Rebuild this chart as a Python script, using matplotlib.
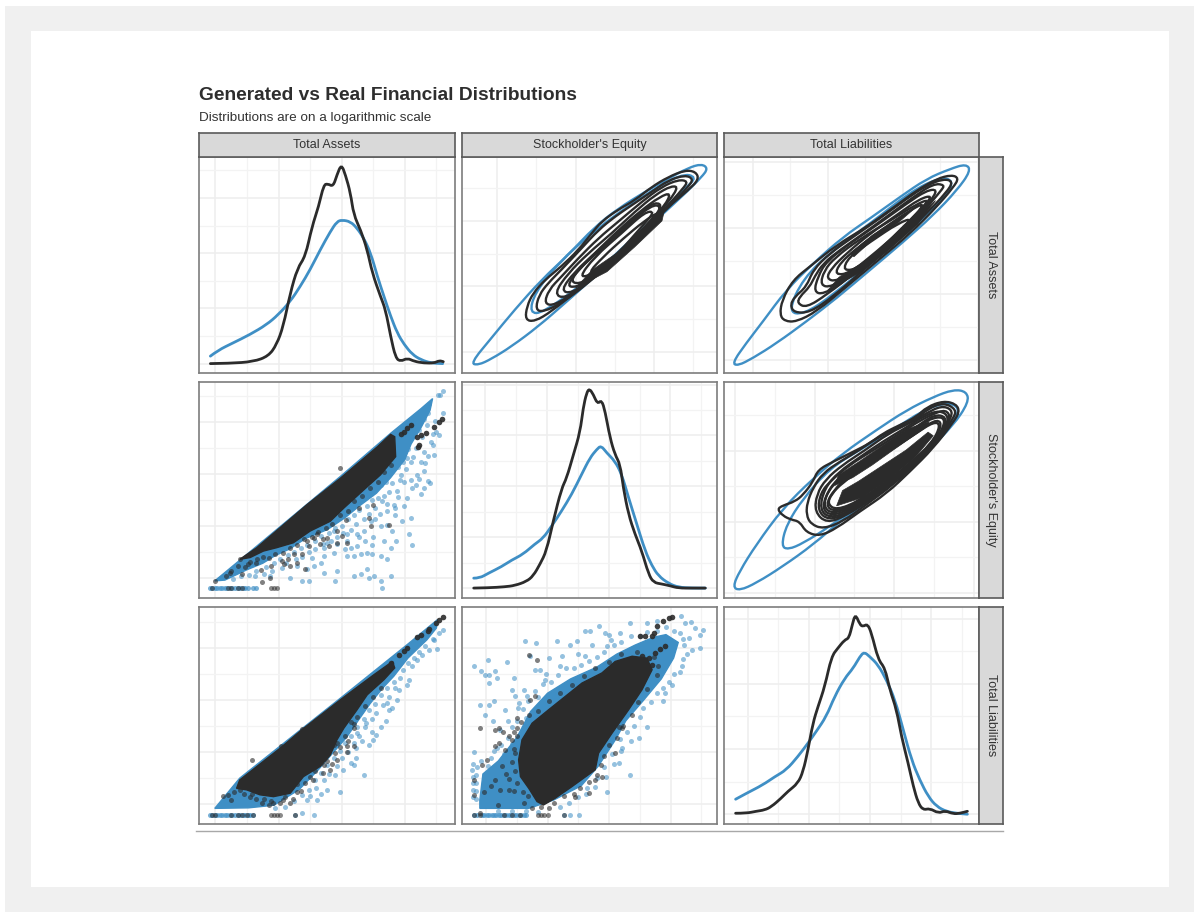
# Generated vs real financial distributions, pairs-plot layout.
# The solid middle of each scatter and the solid stacks of contour lines are drawn
# as filled outlines (too many dots and lines to read one by one).

import matplotlib.pyplot as plt
from matplotlib.patches import PathPatch, Rectangle
from matplotlib.path import Path
from matplotlib.lines import Line2D

plt.rcParams['font.family'] = ['Liberation Sans', 'DejaVu Sans']

FIG_W = 1198
FIG_H = 916
BLUE = '#3f8fc5'
DARK = '#2b2b2b'

VARIABLES = ['Total Assets', "Stockholder's Equity", 'Total Liabilities']
TITLE = 'Generated vs Real Financial Distributions'
SUBTITLE = 'Distributions are on a logarithmic scale'

# density curves
assets_real = [(-0.16, 0), (0.46, 0.01), (1.20, 0.07), (1.68, 0.27), (1.94, 0.69), (2.15, 1.35), (2.37, 2.55),
               (2.60, 3.46), (2.85, 3.88), (3.06, 4.96), (3.27, 5.69), (3.43, 6.47), (3.56, 6.51), (3.73, 6.41),
               (3.85, 6.83), (3.99, 7.22), (4.12, 6.83), (4.28, 6.17), (4.38, 5.39), (4.60, 4.84), (4.81, 4.12),
               (4.97, 3.28), (5.23, 2.43), (5.39, 1.95), (5.55, 0.99), (5.71, 0.20), (5.87, 0.08), (6.08, 0.20),
               (6.30, 0.08), (6.61, 0.02), (6.93, 0.02), (7.09, 0.11), (7.22, 0.07)]
assets_gen = [(-0.16, 0.27), (0.08, 0.48), (0.56, 0.75), (1.09, 1.05), (1.62, 1.41), (1.99, 1.77), (2.37, 2.25),
              (2.69, 2.80), (3.00, 3.40), (3.32, 4.12), (3.64, 4.78), (3.85, 5.14), (4.01, 5.20), (4.28, 5.14),
              (4.49, 4.90), (4.70, 4.54), (4.92, 4.00), (5.13, 3.16), (5.34, 2.43), (5.55, 1.72), (5.76, 1.11),
              (5.98, 0.69), (6.24, 0.33), (6.51, 0.14), (6.83, 0.02), (7.20, 0)]
equity_real = [(-0.38, 0), (0.09, 0.01), (0.63, 0.05), (0.95, 0.10), (1.33, 0.26), (1.55, 0.48), (1.77, 0.94),
               (1.98, 1.46), (2.20, 2.64), (2.47, 3.92), (2.63, 4.31), (2.85, 5.23), (3.07, 6.14), (3.17, 7.08),
               (3.28, 7.67), (3.37, 7.84), (3.50, 7.61), (3.63, 7.24), (3.77, 7.39), (3.88, 6.95), (4.04, 5.91),
               (4.20, 5.25), (4.37, 4.86), (4.47, 3.95), (4.64, 2.90), (4.85, 2.12), (5.07, 1.46), (5.29, 0.55),
               (5.45, 0.22), (5.72, 0.16), (5.99, 0.09), (6.26, 0), (6.70, 0), (7.13, 0)]
equity_gen = [(-0.38, 0.39), (-0.19, 0.39), (0.09, 0.58), (0.52, 0.84), (0.85, 1.10), (1.22, 1.33), (1.60, 1.73),
              (1.87, 1.96), (2.15, 2.44), (2.47, 3.03), (2.80, 3.69), (3.12, 4.47), (3.39, 5.12), (3.61, 5.45),
              (3.75, 5.60), (3.93, 5.32), (4.20, 4.99), (4.42, 4.47), (4.64, 3.56), (4.91, 2.51), (5.18, 1.46),
              (5.40, 0.88), (5.61, 0.48), (5.94, 0.18), (6.26, 0.03), (6.70, 0), (7.13, 0)]
liab_real = [(-0.40, 0.03), (-0.05, 0.03), (0.27, 0.09), (0.55, 0.13), (0.77, 0.23), (1.09, 0.49), (1.31, 0.70),
             (1.64, 0.95), (1.81, 1.31), (1.97, 1.97), (2.13, 2.79), (2.30, 3.31), (2.52, 3.92), (2.74, 4.84),
             (2.95, 5.10), (3.17, 5.35), (3.31, 5.40), (3.42, 5.81), (3.52, 6.15), (3.67, 5.82), (3.77, 5.76),
             (3.92, 5.84), (4.05, 5.56), (4.27, 4.74), (4.49, 4.49), (4.65, 3.82), (4.87, 3.21), (5.03, 2.39),
             (5.25, 1.57), (5.42, 0.85), (5.58, 0.34), (5.74, 0.13), (5.96, 0.18), (6.24, 0.03), (6.46, 0.11),
             (6.73, 0.01), (6.95, 0.03), (7.19, 0.09)]
liab_gen = [(-0.40, 0.46), (-0.05, 0.64), (0.49, 0.90), (0.88, 1.15), (1.26, 1.36), (1.64, 1.77), (1.97, 2.18),
            (2.24, 2.54), (2.57, 3.00), (2.84, 3.61), (3.17, 4.17), (3.45, 4.48), (3.67, 4.84), (3.81, 4.98),
            (3.99, 4.84), (4.27, 4.58), (4.54, 4.12), (4.82, 3.51), (5.09, 2.59), (5.36, 1.67), (5.63, 1.05),
            (5.91, 0.54), (6.18, 0.24), (6.51, 0.08), (6.84, 0.03), (7.19, 0)]

# contours, top row middle: Stockholder's Equity (x) vs Total Assets (y)
ea_gen = [
    [(-0.67, -0.34), (-0.48, -0.40), (-0.14, -0.21), (0.37, 0.17), (1.05, 0.78), (1.73, 1.49), (2.58, 2.40),
     (3.43, 3.32), (4.19, 4.18), (4.79, 4.84), (5.21, 5.34), (5.37, 5.60), (5.21, 5.74), (4.87, 5.62), (4.36, 5.29),
     (3.77, 4.89), (3.09, 4.38), (2.49, 3.82), (1.81, 2.96), (1.13, 2.20), (0.45, 1.29), (-0.14, 0.43)],
    [(0.83, 1.19), (1.17, 1.19), (2.32, 2.20), (3.68, 3.72), (4.79, 4.99), (5.09, 5.34), (4.70, 5.45), (3.68, 4.74),
     (2.49, 3.72), (1.56, 2.71), (0.96, 1.80)],
]
ea_real = [
    [(0.72, 0.98), (0.96, 0.93), (1.39, 1.24), (2.07, 1.90), (2.92, 2.71), (3.68, 3.62), (4.36, 4.43), (4.87, 4.94),
     (5.14, 5.27), (5.06, 5.50), (4.79, 5.55), (4.36, 5.34), (3.94, 5.04), (3.51, 4.63), (3.09, 4.35), (2.66, 3.98),
     (2.41, 3.62), (2.07, 3.11), (1.64, 2.61), (1.22, 2.20), (0.92, 1.80), (0.76, 1.39)],
    [(0.98, 1.30), (1.17, 1.22), (1.64, 1.49), (2.32, 2.10), (3.09, 2.91), (3.77, 3.72), (4.45, 4.53), (4.87, 5.04),
     (5.00, 5.28), (4.79, 5.40), (4.36, 5.24), (3.94, 4.89), (3.43, 4.48), (3.00, 4.13), (2.58, 3.72), (2.15, 3.16),
     (1.64, 2.51), (1.30, 2.10), (1.07, 1.74)],
    [(1.20, 1.47), (1.47, 1.42), (2.07, 1.90), (2.83, 2.71), (3.68, 3.62), (4.28, 4.38), (4.74, 4.99), (4.86, 5.21),
     (4.62, 5.26), (4.19, 5.04), (3.68, 4.58), (3.09, 3.98), (2.58, 3.47), (2.07, 2.86), (1.64, 2.30), (1.32, 1.90)],
    [(1.45, 1.78), (1.73, 1.62), (2.32, 2.15), (3.00, 2.86), (3.68, 3.72), (4.19, 4.33), (4.63, 5.01), (4.45, 5.08),
     (4.02, 4.79), (3.51, 4.28), (2.92, 3.62), (2.32, 3.01), (1.81, 2.40)],
    [(1.62, 1.88), (1.90, 1.78), (2.49, 2.30), (3.17, 3.06), (3.77, 3.77), (4.28, 4.48), (4.43, 4.86), (4.15, 4.74),
     (3.68, 4.33), (3.09, 3.72), (2.49, 3.01), (1.98, 2.45)],
    [(1.75, 2.05), (2.00, 1.95), (2.55, 2.35), (3.20, 3.10), (3.80, 3.85), (4.22, 4.42), (4.05, 4.60), (3.55, 4.18),
     (2.95, 3.48), (2.40, 2.92)],
    [(1.85, 2.20), (2.07, 2.05), (2.58, 2.40), (3.26, 3.16), (3.85, 3.92), (4.19, 4.38), (4.02, 4.53), (3.51, 4.08),
     (2.92, 3.37), (2.32, 2.81)],
    [(2.07, 2.25), (2.49, 2.40), (3.09, 3.01), (3.68, 3.82), (4.02, 4.28), (3.77, 4.28), (3.17, 3.62), (2.49, 2.91)],
    [(2.30, 2.38), (2.70, 2.50), (3.30, 3.15), (3.90, 3.90), (4.15, 4.30), (3.75, 4.00), (3.20, 3.45), (2.70, 2.90)],
]
ea_stack = [(2.00, 1.95), (2.80, 2.45), (3.50, 3.20), (4.20, 4.00), (4.28, 4.42), (3.72, 3.78), (3.05, 3.02),
            (2.42, 2.50)]

# contours, top row right: Total Liabilities (x) vs Total Assets (y)
la_gen = [
    [(-0.55, -0.10), (-0.40, -0.18), (0, 0.05), (0.63, 0.50), (1.43, 1.16), (2.23, 1.86), (3.13, 2.72), (4.02, 3.57),
     (4.82, 4.38), (5.45, 5.13), (5.82, 5.72), (5.70, 5.93), (5.27, 5.78), (4.64, 5.48), (3.93, 4.93), (3.13, 4.28),
     (2.41, 3.72), (1.61, 2.92), (0.89, 2.11), (0.27, 1.16), (-0.18, 0.50)],
    [(0.94, 1.46), (1.34, 1.36), (2.14, 1.96), (3.30, 3.07), (4.29, 4.02), (5.18, 4.98), (5.36, 5.43), (5.00, 5.53),
     (4.20, 5.08), (3.13, 4.12), (2.14, 3.32), (1.34, 2.46)],
]
la_real = [
    [(0.72, 1.36), (0.85, 1.17), (1.16, 1.15), (1.70, 1.46), (2.50, 2.21), (3.30, 2.97), (4.20, 3.82), (4.91, 4.63),
     (5.36, 5.23), (5.50, 5.50), (5.31, 5.60), (4.91, 5.48), (4.38, 5.13), (3.84, 4.68), (3.04, 4.02), (2.23, 3.47),
     (1.52, 2.82), (1.07, 2.41), (0.78, 1.81)],
    [(1.00, 1.66), (1.10, 1.43), (1.52, 1.43), (2.14, 1.91), (2.95, 2.72), (3.84, 3.57), (4.64, 4.43), (5.18, 5.08),
     (5.35, 5.40), (5.09, 5.48), (4.64, 5.28), (4.11, 4.88), (3.39, 4.28), (2.68, 3.72), (2.05, 3.22), (1.61, 2.72),
     (1.43, 2.21), (1.12, 1.91)],
    [(1.19, 1.71), (1.43, 1.58), (1.96, 1.96), (2.77, 2.67), (3.66, 3.52), (4.46, 4.38), (5.04, 5.13), (5.12, 5.30),
     (4.82, 5.33), (4.29, 4.93), (3.57, 4.33), (2.95, 3.82), (2.32, 3.32), (1.88, 2.92), (1.65, 2.52), (1.52, 2.21),
     (1.25, 1.91)],
    [(1.63, 2.06), (1.88, 1.98), (2.50, 2.41), (3.30, 3.22), (4.11, 4.02), (4.73, 4.78), (4.94, 5.16), (4.64, 5.13),
     (4.11, 4.73), (3.30, 4.07), (2.59, 3.52), (1.96, 2.97), (1.74, 2.52)],
    [(1.80, 2.25), (2.10, 2.20), (2.75, 2.65), (3.55, 3.48), (4.30, 4.30), (4.75, 4.88), (4.35, 4.70), (3.65, 4.20),
     (2.85, 3.65), (2.20, 3.10), (1.90, 2.70)],
    [(1.96, 2.46), (2.23, 2.36), (2.95, 2.87), (3.75, 3.72), (4.46, 4.53), (4.82, 4.98), (4.46, 4.88), (3.84, 4.38),
     (3.13, 3.82), (2.50, 3.22), (2.10, 2.77)],
    [(2.19, 2.57), (2.59, 2.62), (3.30, 3.27), (4.11, 4.07), (4.64, 4.78), (4.20, 4.53), (3.48, 3.97), (2.77, 3.37),
     (2.32, 2.92)],
    [(2.40, 2.68), (2.85, 2.78), (3.60, 3.50), (4.30, 4.30), (3.90, 4.15), (3.15, 3.58), (2.55, 3.10)],
]
la_stack = [(2.00, 2.10), (2.80, 2.60), (3.60, 3.30), (4.40, 4.10), (4.88, 4.82), (4.30, 4.28), (3.50, 3.42),
            (2.85, 2.88), (2.30, 2.50)]
la_stack_top = [(2.60, 3.22), (3.20, 3.78), (3.90, 4.30), (4.42, 4.68), (3.85, 4.12), (3.15, 3.58), (2.70, 3.12)]

# contours, middle row right: Total Liabilities (x) vs Stockholder's Equity (y)
le_gen = [
    [(-0.06, 0.17), (0.11, 0.07), (0.53, 0.28), (1.20, 0.75), (1.96, 1.36), (2.63, 2.01), (3.39, 2.62), (4.14, 3.32),
     (4.82, 3.97), (5.49, 4.72), (5.87, 5.36), (5.82, 5.66), (5.49, 5.72), (4.98, 5.51), (4.31, 5.14), (3.55, 4.58),
     (2.71, 3.93), (1.96, 3.22), (1.20, 2.38), (0.53, 1.36), (0.11, 0.61)],
    [(1.16, 1.32), (1.33, 1.22), (1.71, 1.40), (2.38, 1.87), (3.30, 2.62), (4.14, 3.32), (4.98, 4.11), (5.49, 4.81),
     (5.65, 5.21), (5.32, 5.36), (4.73, 5.14), (3.97, 4.58), (3.13, 4.02), (2.38, 3.50), (1.71, 2.66), (1.29, 1.92)],
]
le_real = [
    [(1.06, 2.36), (1.20, 2.17), (1.41, 2.06), (1.62, 2.01), (1.79, 1.70), (2.13, 1.60), (2.55, 1.82), (3.13, 2.29),
     (3.81, 2.80), (4.39, 3.41), (4.98, 4.07), (5.49, 4.81), (5.64, 5.09), (5.56, 5.31), (5.24, 5.40), (4.82, 5.23),
     (4.56, 4.95), (4.14, 4.72), (3.72, 4.49), (3.39, 4.21), (2.97, 3.97), (2.46, 3.69), (2.08, 3.46), (1.96, 3.13),
     (1.71, 2.76), (1.50, 2.57), (1.20, 2.46)],
    [(1.79, 2.20), (1.90, 1.94), (2.21, 1.80), (2.71, 2.01), (3.29, 2.48), (3.97, 3.04), (4.56, 3.65), (5.07, 4.25),
     (5.49, 4.91), (5.56, 5.16), (5.24, 5.35), (4.86, 5.19), (4.52, 4.86), (4.06, 4.63), (3.55, 4.35), (3.13, 4.02),
     (2.63, 3.69), (2.21, 3.37), (1.96, 2.96), (1.81, 2.54)],
    [(2.00, 2.28), (2.30, 1.96), (2.80, 2.18), (3.40, 2.62), (4.05, 3.18), (4.65, 3.78), (5.15, 4.38), (5.43, 4.92),
     (5.45, 5.16), (5.18, 5.26), (4.80, 5.05), (4.40, 4.78), (3.85, 4.48), (3.25, 4.00), (2.70, 3.60), (2.28, 3.20),
     (2.05, 2.78)],
    [(2.07, 2.32), (2.34, 2.04), (2.85, 2.24), (3.48, 2.72), (4.10, 3.24), (4.70, 3.85), (5.18, 4.45), (5.42, 4.92),
     (5.30, 5.16), (4.95, 5.02), (4.55, 4.78), (4.05, 4.42), (3.45, 4.00), (2.85, 3.58), (2.40, 3.15), (2.15, 2.82)],
    [(2.12, 2.35), (2.38, 2.10), (2.90, 2.30), (3.55, 2.82), (4.15, 3.30), (4.75, 3.92), (5.22, 4.52), (5.39, 4.94),
     (5.15, 5.14), (4.75, 4.98), (4.30, 4.65), (3.70, 4.25), (3.15, 3.83), (2.60, 3.40), (2.25, 2.95)],
    [(2.17, 2.38), (2.42, 2.16), (2.95, 2.38), (3.60, 2.88), (4.20, 3.38), (4.80, 3.98), (5.24, 4.58), (5.32, 4.95),
     (5.00, 5.02), (4.50, 4.62), (3.90, 4.22), (3.35, 3.80), (2.78, 3.40), (2.38, 2.98)],
    [(2.22, 2.42), (2.45, 2.22), (3.00, 2.45), (3.65, 2.95), (4.25, 3.45), (4.85, 4.05), (5.25, 4.65), (5.25, 4.97),
     (4.85, 4.88), (4.35, 4.50), (3.75, 4.08), (3.15, 3.65), (2.65, 3.25), (2.32, 2.85)],
    [(2.27, 2.46), (2.50, 2.28), (3.05, 2.52), (3.70, 3.02), (4.30, 3.52), (4.90, 4.14), (5.20, 4.68), (5.10, 4.90),
     (4.65, 4.60), (4.05, 4.15), (3.40, 3.70), (2.85, 3.28), (2.48, 2.90)],
    [(2.32, 2.50), (2.55, 2.33), (3.10, 2.58), (3.75, 3.08), (4.35, 3.60), (4.95, 4.22), (5.17, 4.72), (5.00, 4.82),
     (4.50, 4.45), (3.85, 3.98), (3.20, 3.50), (2.70, 3.10), (2.42, 2.78)],
]
le_stack = [(2.55, 2.45), (3.20, 2.68), (3.90, 3.22), (4.50, 3.78), (4.98, 4.42), (4.85, 4.52), (4.30, 4.02),
            (3.70, 3.58), (3.10, 3.14), (2.70, 2.88)]
le_stack_top = [(2.50, 3.02), (2.95, 3.24), (3.45, 3.60), (3.95, 4.00), (4.40, 4.35), (4.80, 4.66), (4.88, 4.82),
                (4.35, 4.62), (3.75, 4.18), (3.10, 3.68), (2.60, 3.32)]

# scatter, middle row left: Total Assets (x) vs Stockholder's Equity (y)
ae_body_gen = [(-0.02, -0.13), (1.31, 1.21), (3.96, 3.90), (5.55, 5.56), (6.51, 6.51), (6.88, 6.90), (6.80, 6.45),
               (6.50, 5.75), (6.20, 5.15), (6.00, 4.55), (5.55, 3.85), (5.10, 3.25), (4.55, 2.75), (4.10, 2.30),
               (3.55, 1.85), (2.85, 1.50), (2.35, 1.10), (1.90, 0.85), (1.50, 0.55), (1.00, 0.30), (0.30, -0.10)]
ae_body_real = [(0.77, 0.70), (1.31, 1.15), (2.90, 2.81), (3.96, 3.83), (5.13, 5.04), (5.55, 5.52), (5.68, 5.43),
                (5.71, 4.66), (5.23, 3.96), (4.70, 3.38), (4.07, 2.68), (3.64, 2.17), (3.00, 1.79), (2.47, 1.34),
                (1.94, 1.15), (1.52, 1.02), (1.10, 0.77)]
ae_pts_gen = [(7.22, 7.18), (7.12, 7.02), (6.77, 6.70), (7.04, 7.02), (7.20, 6.36), (6.98, 5.62), (7.09, 5.49),
              (6.88, 5.11), (6.93, 4.73), (6.61, 4.09), (6.72, 3.73), (6.80, 3.64), (6.51, 3.22), (6.61, 3.45),
              (6.24, 3.45), (6.19, 3.77), (5.98, 3.70), (5.76, 3.32), (5.98, 2.75), (6.19, 2.30), (5.92, 2.17),
              (6.14, 1.66), (6.24, 1.25), (5.68, 2.43), (5.61, 1.79), (5.71, 1.40), (5.45, 2.04), (5.23, 1.98),
              (5.55, 1.15), (5.34, 1.40), (5.23, 0.83), (5.45, 0.70), (4.81, 0.96), (4.97, 0.89), (4.49, 1.21),
              (4.38, 0.83), (4.17, 0.83), (3.85, 0.26), (3.43, 0.19), (3.80, -0.15), (4.38, 0.06), (4.60, 0.13),
              (4.81, 0.32), (4.86, 0), (5.02, 0.06), (5.23, -0.13), (5.55, 0.06), (5.29, -0.41), (2.95, -0.15),
              (2.74, -0.15), (3.43, 0.83), (3.75, 0.96), (4.17, 1.40), (3.11, 0.45), (2.90, 0.32), (2.37, 0),
              (1.73, 0.06), (5.66, 2.81), (5.45, 2.55), (5.29, 2.94), (6.08, 3.07), (6.40, 3.96), (6.51, 4.47),
              (6.19, 4.47), (5.87, 3.96), (6.08, 4.60), (6.61, 4.85), (6.83, 5.24), (4.92, 2.17), (4.70, 1.79),
              (4.49, 1.66), (4.17, 1.66), (3.85, 1.28), (3.54, 1.34), (3.75, 1.79), (3.43, 1.15),
              (6.75, 6.35), (6.62, 6.10), (6.70, 5.90), (6.45, 5.70), (6.55, 5.40), (6.25, 5.45), (6.35, 5.00),
              (6.10, 4.95), (6.25, 4.65), (5.95, 4.45), (6.05, 4.20), (5.80, 4.25), (5.60, 4.10), (5.85, 3.75),
              (5.60, 3.65), (5.40, 3.70), (5.50, 3.30), (5.25, 3.55), (5.15, 3.05), (5.35, 3.15), (4.95, 3.00),
              (5.05, 2.70), (4.80, 2.75), (4.85, 2.45), (4.55, 2.60), (4.70, 2.25), (4.40, 2.40), (4.45, 2.05),
              (4.20, 2.25), (4.30, 1.85), (4.00, 2.00), (4.05, 1.70), (3.80, 1.90), (3.85, 1.55), (3.60, 1.70),
              (3.65, 1.40), (3.35, 1.60), (3.40, 1.30), (3.15, 1.40), (3.15, 1.10), (2.90, 1.25), (2.95, 1.00),
              (2.70, 1.15), (2.75, 0.80), (2.50, 1.00), (2.55, 0.70), (2.30, 0.85), (2.25, 0.55), (2.05, 0.70),
              (2.10, 0.35), (1.85, 0.55), (1.80, 0.25), (1.60, 0.40), (1.55, 0.15), (1.30, 0.25), (1.25, 0.05),
              (1.05, 0.10), (0.80, 0.05), (0.55, -0.05), (3.05, 0.75), (3.35, 0.55), (2.60, 0.45), (4.55, 1.55),
              (4.75, 1.40), (5.00, 1.55), (4.95, 1.25), (4.30, 1.15), (4.60, 0.90), (4.10, 1.10), (5.05, 2.25),
              (5.20, 2.45), (5.45, 2.85), (5.80, 3.10), (5.70, 2.70), (6.35, 3.55), (6.45, 3.80), (6.65, 4.40),
              (6.75, 4.70), (6.90, 5.55), (6.95, 6.05)]
ae_pts_real = [(3.96, 4.21), (5.50, 2.02), (4.92, 1.98), (4.17, 1.34), (3.85, 1.34), (3.22, 1.66), (2.90, 1.40),
               (2.37, 0.45), (2.16, 0.51), (1.73, 0), (1.46, -0.19), (2.85, 0.32), (2.58, 0.57), (3.54, 1.53),
               (3.32, 1.28), (3.11, 1.53), (1.04, 0.51), (1.31, 0.70), (0.77, 0.70), (0.35, 0.06), (0.46, 0.19),
               (-0.02, -0.15), (5.55, 4.35), (5.35, 4.05), (5.15, 3.70), (4.90, 3.45), (4.65, 3.15), (4.40, 2.95),
               (4.55, 2.70), (4.20, 2.55), (3.95, 2.40), (4.15, 2.20), (3.70, 2.05), (3.85, 1.80), (3.50, 1.90),
               (3.25, 1.75), (3.40, 1.50), (3.05, 1.55), (2.80, 1.50), (2.95, 1.20), (2.60, 1.25), (2.35, 1.15),
               (2.50, 0.90), (2.15, 0.95), (1.90, 0.90), (2.10, 0.65), (1.70, 0.75), (1.50, 0.80), (1.75, 0.45),
               (1.30, 0.55), (1.10, 0.60), (1.45, 0.30), (0.95, 0.40), (0.70, 0.45), (0.50, 0.25), (0.85, 0.15),
               (2.30, 0.70), (2.75, 0.90), (3.60, 1.20), (4.00, 1.60), (4.85, 2.30), (5.00, 2.80)]
ae_spur_real = [(6.19, 5.87), (6.08, 5.75), (5.98, 5.62), (5.87, 5.55), (7.17, 6.13), (7.09, 6.00), (6.93, 5.81),
                (6.67, 5.56), (6.51, 5.49), (6.40, 5.43), (6.45, 5.11), (6.42, 5.02)]
ae_floor_gen = [-0.18, -0.10, -0.02, 0.06, 0.14, 0.22, 0.30, 0.38, 0.46, 0.54, 0.62, 0.70, 0.78, 0.86, 0.94, 1.02,
                1.20, 1.28]
ae_floor_real = [-0.12, 0.40, 0.48, 0.70, 0.85, 1.77, 1.85, 1.95]

# scatter, bottom row left: Total Assets (x) vs Total Liabilities (y)
al_body_gen = [(-0.02, -0.17), (0.77, 0.99), (3.96, 4.06), (6.08, 6.12), (7.04, 7.08), (7.00, 6.75), (6.70, 6.30),
               (6.10, 5.60), (5.65, 4.90), (5.30, 4.45), (4.90, 3.85), (4.55, 3.25), (4.15, 2.55), (3.75, 2.00),
               (3.25, 1.30), (2.65, 0.55), (1.85, -0.05), (1.05, -0.15)]
al_body_real = [(0.77, 0.92), (2.05, 2.14), (2.74, 2.85), (3.96, 4.00), (5.02, 4.96), (5.61, 5.47), (5.68, 5.22),
                (5.34, 4.77), (4.81, 4.19), (4.49, 3.62), (4.07, 2.91), (3.85, 2.46), (3.64, 1.88), (3.32, 1.44),
                (2.79, 1.05), (2.37, 0.41), (1.84, 0.28), (1.41, 0.35), (0.99, 0.54), (0.67, 0.60)]
al_pts_gen = [(7.22, 6.69), (7.09, 6.56), (6.91, 6.28), (7.02, 5.95), (6.77, 5.92), (6.56, 5.73), (6.40, 5.54),
              (6.24, 5.28), (6.08, 4.58), (6.14, 4.77), (5.82, 4.38), (5.76, 4.00), (5.50, 3.62), (5.45, 3.87),
              (5.23, 2.97), (5.00, 2.46), (4.65, 2.40), (4.44, 2.14), (4.70, 1.12), (4.28, 1.56), (3.96, 0.47),
              (4.38, 1.50), (3.22, 0.15), (3.13, -0.42), (2.90, 0.15), (2.74, -0.36), (2.53, -0.42), (4.97, 2.78),
              (4.76, 3.10), (4.49, 2.72),
              (6.90, 6.35), (6.65, 6.05), (6.45, 5.85), (6.30, 5.60), (6.10, 5.40), (5.95, 5.15), (5.85, 4.85),
              (5.65, 4.70), (5.70, 4.45), (5.45, 4.45), (5.50, 4.10), (5.25, 4.20), (5.30, 3.80), (5.05, 3.85),
              (5.10, 3.50), (4.85, 3.60), (4.95, 3.25), (4.70, 3.25), (4.75, 2.95), (4.50, 2.95), (4.55, 2.60),
              (4.30, 2.60), (4.40, 2.35), (4.10, 2.35), (4.20, 2.00), (3.95, 2.05), (4.00, 1.75), (3.75, 1.75),
              (3.85, 1.45), (3.55, 1.50), (3.60, 1.15), (3.35, 1.20), (3.45, 0.90), (3.15, 0.90), (3.20, 0.60),
              (2.95, 0.55), (3.00, 0.30), (2.75, 0.35), (3.55, 0.55), (3.35, 0.40), (2.50, 0.10), (2.20, -0.10),
              (1.90, -0.15), (3.80, 1.10), (4.05, 1.30), (4.45, 1.75), (4.85, 2.25), (5.10, 2.65), (5.40, 3.20),
              (5.60, 3.70)]
al_pts_real = [(1.17, 1.67), (2.07, 2.21), (2.74, 2.87), (4.38, 2.91), (4.17, 2.21), (3.85, 2.33), (4.38, 2.21),
               (4.17, 2.01), (3.85, 1.69), (3.64, 1.31), (3.43, 1.50), (3.00, 1.05), (2.58, 0.47), (2.15, 0.15),
               (1.84, 0.03), (0.40, 0.35), (0.77, 0.54), (1.09, 0.28), (1.46, 0.03), (2.53, -0.42),
               (5.25, 4.45), (5.00, 4.10), (4.75, 3.75), (4.50, 3.35), (4.30, 3.15), (4.40, 3.05), (4.10, 2.60),
               (4.20, 2.40), (3.95, 2.20), (3.75, 2.25), (3.80, 1.95), (3.55, 1.65), (3.70, 1.55), (3.40, 1.20),
               (3.15, 1.25), (3.10, 0.90), (2.85, 0.80), (2.60, 0.75), (2.70, 0.50), (2.45, 0.20), (2.20, 0.25),
               (2.05, 0.05), (1.75, 0.10), (1.55, 0.20), (1.30, 0.20), (1.15, 0.40), (0.90, 0.40), (0.60, 0.45),
               (0.50, 0.15), (0.25, 0.30), (1.70, -0.05), (2.35, 0.05)]
al_spur_real = [(7.20, 7.18), (7.09, 7.05), (6.99, 6.95), (6.77, 6.72), (6.51, 6.50), (6.40, 6.41), (6.72, 6.62),
                (6.08, 5.99), (5.98, 5.86), (5.82, 5.73), (5.55, 5.41)]
al_floor_gen = [-0.18, -0.10, -0.02, 0.06, 0.14, 0.22, 0.30, 0.38, 0.46, 0.54, 0.62, 0.70, 0.78, 0.86, 0.94, 1.02,
                1.10, 1.20]
al_floor_real = [-0.10, 0, 0.50, 0.70, 0.85, 1.00, 1.20, 1.75, 1.85, 1.95, 2.05]

# scatter, bottom row middle: Stockholder's Equity (x) vs Total Liabilities (y)
el_body_gen = [(-0.20, -0.17), (1.39, -0.17), (2.20, 0.15), (3.10, 0.70), (3.65, 1.45), (4.20, 2.45), (4.55, 3.20),
               (5.10, 3.95), (5.70, 4.80), (6.10, 5.60), (6.25, 6.20), (5.85, 6.50), (5.45, 6.40), (4.85, 6.10),
               (4.25, 5.75), (3.60, 5.25), (2.75, 4.80), (2.00, 4.25), (1.45, 3.55), (1.00, 2.55), (0.40, 1.65),
               (-0.10, 1.15), (-0.20, 0.15)]
el_body_real = [(1.87, -0.04), (2.25, 0.22), (2.80, 0.67), (3.55, 1.31), (3.66, 1.95), (4.10, 2.72), (4.64, 3.62),
                (5.07, 4.38), (5.40, 5.15), (5.23, 5.60), (4.75, 5.67), (4.20, 5.47), (3.77, 5.03), (3.12, 4.64),
                (2.58, 4.13), (2.04, 3.62), (1.50, 3.10), (1.17, 2.46), (1.06, 1.69), (1.12, 1.05), (1.39, 0.60),
                (1.66, 0.09)]
el_pts_gen = [(-0.40, 5.28), (-0.15, 5.09), (0.05, 5.54), (0.68, 5.45), (0.09, 4.96), (0.28, 5.09), (0.36, 4.83),
              (-0.02, 4.96), (0.90, 4.83), (1.26, 6.24), (1.64, 6.18), (0.09, 4.64), (-0.02, 3.42), (-0.18, 3.81),
              (0.09, 3.81), (0.27, 3.94), (0.22, 3.17), (0.85, 4.38), (0.95, 4.13), (1.22, 4.38), (1.33, 4.13),
              (1.06, 3.87), (1.44, 5.67), (1.60, 5.15), (1.77, 5.15), (2.04, 5.60), (2.31, 6.24), (2.74, 6.12),
              (2.96, 6.24), (3.23, 6.63), (3.39, 6.63), (3.66, 6.82), (3.88, 6.56), (3.99, 6.50), (4.37, 6.56),
              (4.69, 6.95), (5.23, 6.95), (5.56, 7.01), (6.34, 7.21), (6.48, 6.95), (6.67, 6.97), (6.80, 6.76),
              (7.07, 6.69), (6.97, 6.50), (6.70, 5.92), (6.97, 5.99), (6.59, 6.37), (6.37, 5.28), (6.05, 4.58),
              (5.77, 3.94), (5.83, 4.26), (5.23, 2.97), (4.96, 2.53), (4.69, 1.12), (4.31, 1.56), (4.42, 2.14),
              (3.93, 0.47), (3.28, 0.60), (3.07, 1.31), (3.01, -0.42), (2.74, -0.42), (2.52, -0.42), (3.93, 6.05),
              (3.23, 5.67), (2.47, 5.67), (1.93, 4.77), (0.63, 3.62), (0.47, 2.85), (0.36, 2.14), (-0.40, 2.01),
              (-0.46, 1.31), (-0.43, 0.79), (-0.43, 0.28), (-0.43, 0.55), (-0.43, 1.05), (-0.43, 1.55),
              (6.40, 6.35), (6.30, 6.55), (6.10, 6.65), (5.85, 6.80), (5.55, 6.65), (5.25, 6.60), (5.00, 6.45),
              (4.70, 6.45), (4.40, 6.20), (4.15, 6.10), (3.85, 5.85), (3.60, 5.65), (3.35, 5.50), (3.10, 5.35),
              (2.85, 5.20), (2.60, 5.20), (2.35, 4.95), (2.10, 4.70), (1.85, 4.60), (1.60, 4.35), (1.70, 4.10),
              (1.35, 3.95), (1.20, 3.65), (1.30, 3.30), (1.00, 3.20), (0.85, 2.95), (0.70, 2.55), (0.85, 2.30),
              (0.50, 2.25), (0.25, 2.05), (0.15, 1.75), (0.05, 1.45), (-0.15, 1.65), (-0.30, 1.40), (-0.32, 1.10),
              (-0.32, 0.80), (-0.32, 0.50), (-0.32, 0.20), (0.60, 1.90), (0.70, 3.20), (1.05, 3.70), (1.95, 5.00),
              (2.40, 5.30), (3.00, 5.75), (3.45, 6.10), (4.05, 6.30), (6.45, 6.10), (6.55, 5.75), (6.40, 5.55),
              (6.30, 5.05), (6.10, 5.00), (5.95, 4.70), (5.75, 4.45), (5.55, 4.25), (5.35, 3.90), (5.10, 3.70),
              (5.00, 3.35), (4.80, 3.00), (4.60, 2.75), (4.70, 2.40), (4.35, 2.50), (4.40, 2.05), (4.10, 1.90),
              (4.15, 1.55), (3.85, 1.40), (3.90, 1.05), (3.60, 1.00), (3.55, 0.65), (3.25, 0.40), (3.00, 0.25),
              (2.70, 0.05), (2.40, -0.10), (1.70, -0.30), (1.30, -0.28), (0.85, -0.28), (0.40, -0.28)]
el_pts_real = [(0.30, 2.85), (0.41, 2.91), (1.01, 3.29), (0.90, 2.78), (0.30, 2.21), (0.41, 2.33), (0.03, 1.69),
               (-0.13, 1.50), (-0.18, 2.91), (-0.40, 0.35), (-0.40, 0.92), (-0.18, -0.36), (1.66, 5.54), (1.39, 5.73),
               (1.44, 4.00), (1.60, 4.13), (0.85, 2.46), (0.63, 2.08), (0.52, 1.44), (0.30, 0.92), (0.74, 0.54),
               (4.20, 1.95), (4.31, 2.97), (4.42, 2.91), (3.77, 1.05), (3.55, 0.92), (3.34, 0.41), (2.90, 0.28),
               (1.00, 2.60), (0.90, 2.10), (0.85, 1.60), (0.95, 1.25), (0.75, 0.95), (1.00, 0.80), (0.90, 0.50),
               (1.20, 0.45), (1.35, 0.30), (1.25, 0.05), (1.50, -0.15), (1.80, -0.10), (2.05, -0.15), (2.20, 0.05),
               (2.55, 0.30), (2.85, 0.40), (3.05, 0.60), (3.35, 0.85), (3.60, 1.10), (3.75, 1.50), (3.85, 1.85),
               (4.00, 2.25), (4.25, 2.55), (4.45, 3.00), (4.75, 3.40), (4.95, 3.90), (5.25, 4.40), (5.55, 4.95),
               (5.60, 5.30), (5.45, 5.65), (4.90, 5.85), (4.40, 5.75), (4.00, 5.45), (3.55, 5.20), (3.20, 4.90),
               (2.80, 4.55), (2.40, 4.25), (2.05, 3.95), (1.70, 3.55), (1.40, 3.40), (1.15, 3.15), (1.00, 2.90),
               (0.75, 2.60), (0.55, 2.75), (0.95, 1.95), (0.65, 1.15), (0.45, 0.55), (0.15, 0.70), (-0.05, 0.45),
               (0.40, -0.05)]
el_spur_real = [(6.05, 7.18), (5.94, 7.14), (5.77, 7.01), (5.56, 6.82), (5.45, 6.56), (5.40, 6.44), (5.18, 6.44),
                (5.02, 6.46), (5.83, 6.05), (5.67, 5.95), (5.50, 5.79), (5.29, 5.60), (5.07, 5.67), (5.40, 5.35)]
el_floor_gen = [-0.40, -0.30, -0.14, -0.06, 0.02, 0.10, 0.18, 0.26, 0.34, 0.42, 0.50, 0.58, 0.66, 0.74, 0.82, 0.90,
                0.98, 1.06, 1.14, 1.22, 1.30]
el_floor_real = [-0.40, -0.18, 0.60, 0.85, 1.10, 1.68, 1.78, 1.88, 2.00, 2.52]

# x and y limits of each panel in grid cells, row by row
XLIMS = [[(-0.52, 7.59), (-0.89, 5.60), (-0.77, 6.04)],
         [(-0.52, 7.59), (-0.76, 7.51), (-0.28, 6.13)],
         [(-0.52, 7.59), (-0.78, 7.51), (-0.78, 7.57)]]
YLIMS = [[(-0.34, 7.48), (-0.64, 5.95), (-0.40, 6.14)],
         [(-0.79, 7.54), (-0.39, 8.10), (-0.14, 5.93)],
         [(-0.77, 7.56), (-0.77, 7.56), (-0.30, 6.36)]]
FLOOR_Y = -0.42

# panel edges on the figure
COL_EDGES = [(199, 455), (462, 717), (724, 979)]
ROW_EDGES = [(157, 373), (382, 598), (607, 824)]


def px_axes(fig, x0, y0, x1, y1):
    return fig.add_axes([x0 / FIG_W, 1 - y1 / FIG_H, (x1 - x0) / FIG_W, (y1 - y0) / FIG_H])


def px_rect(fig, x0, y0, x1, y1, color):
    fig.add_artist(Rectangle((x0 / FIG_W, 1 - y1 / FIG_H), (x1 - x0) / FIG_W, (y1 - y0) / FIG_H,
                             transform=fig.transFigure, facecolor=color, edgecolor='none', zorder=-5))


def style_panel(ax, row, col):
    ax.set_xlim(XLIMS[row][col])
    ax.set_ylim(YLIMS[row][col])
    x0, x1 = XLIMS[row][col]
    y0, y1 = YLIMS[row][col]
    xs = [v for v in range(0, 9) if x0 < v < x1]
    ys = [v for v in range(0, 9) if y0 < v < y1]
    ax.set_xticks([v for v in xs if v % 2 == 0])
    ax.set_xticks([v for v in xs if v % 2 == 1], minor=True)
    ax.set_yticks([v for v in ys if v % 2 == 0])
    ax.set_yticks([v for v in ys if v % 2 == 1], minor=True)
    ax.tick_params(which='both', length=0, labelbottom=False, labelleft=False)
    ax.grid(True, which='major', color='#eeeeee', linewidth=1.1)
    ax.grid(True, which='minor', color='#f3f3f3', linewidth=0.9)
    ax.set_axisbelow(True)
    for spine in ax.spines.values():
        spine.set_color('#7d7d7d')
        spine.set_linewidth(1.2)
        spine.set_zorder(10)


# quadratic bezier path with the read points as control points, so curves come out round
def round_path(points, closed):
    n = len(points)
    mid = lambda a, b: ((a[0] + b[0]) / 2, (a[1] + b[1]) / 2)
    if closed:
        verts = [mid(points[-1], points[0])]
        codes = [Path.MOVETO]
        for i in range(n):
            verts += [points[i], mid(points[i], points[(i + 1) % n])]
            codes += [Path.CURVE3, Path.CURVE3]
    else:
        verts = [points[0]]
        codes = [Path.MOVETO]
        for i in range(1, n - 1):
            verts += [points[i], mid(points[i], points[i + 1])]
            codes += [Path.CURVE3, Path.CURVE3]
        verts.append(points[-1])
        codes.append(Path.LINETO)
    return Path(verts, codes)


def draw_density(ax, real, gen):
    for points, color in [(gen, BLUE), (real, DARK)]:
        ax.add_patch(PathPatch(round_path(points, False), facecolor='none', edgecolor=color, linewidth=2.0,
                               capstyle='round'))


def draw_contours(ax, gen, real, stacks):
    for line in gen:
        ax.add_patch(PathPatch(round_path(line, True), facecolor='none', edgecolor=BLUE, linewidth=1.7))
    for line in real:
        ax.add_patch(PathPatch(round_path(line, True), facecolor='none', edgecolor=DARK, linewidth=1.7))
    for stack in stacks:
        ax.fill(*zip(*stack), color=DARK, linewidth=0.5)


def draw_scatter(ax, body_gen, body_real, pts_gen, pts_real, spur, floor_gen, floor_real):
    ax.fill(*zip(*body_gen), color=BLUE, linewidth=1)
    ax.scatter(*zip(*pts_gen), s=13, color=BLUE, alpha=0.55, linewidths=0)
    ax.scatter(floor_gen, [FLOOR_Y] * len(floor_gen), s=13, color=BLUE, alpha=0.7, linewidths=0)
    ax.scatter(*zip(*pts_real), s=13, color=DARK, alpha=0.6, linewidths=0)
    ax.fill(*zip(*body_real), color=DARK, linewidth=1, zorder=3)
    ax.scatter(*zip(*spur), s=16, color=DARK, alpha=0.9, linewidths=0)
    ax.scatter(floor_real, [FLOOR_Y] * len(floor_real), s=13, color=DARK, alpha=0.55, linewidths=0)


def style_strip(ax):
    ax.set_facecolor('#d9d9d9')
    ax.set_xticks([])
    ax.set_yticks([])
    for spine in ax.spines.values():
        spine.set_color('#5a5a5a')
        spine.set_linewidth(1.2)


def draw_strips(fig):
    for col, name in enumerate(VARIABLES):
        x0, x1 = COL_EDGES[col]
        ax = px_axes(fig, x0, 133, x1, 157)
        style_strip(ax)
        ax.text(0.5, 0.48, name, ha='center', va='center', fontsize=9, color='#333333', transform=ax.transAxes)
    for row, name in enumerate(VARIABLES):
        y0, y1 = ROW_EDGES[row]
        ax = px_axes(fig, 979, y0, 1003, y1)
        style_strip(ax)
        ax.text(0.48, 0.5, name, ha='center', va='center', rotation=-90, fontsize=9, color='#333333',
                transform=ax.transAxes)


def main():
    fig = plt.figure(figsize=(FIG_W / 100, FIG_H / 100), dpi=100, facecolor='white')
    px_rect(fig, 5, 6, 1194, 912, '#f0f0f0')
    px_rect(fig, 31, 31, 1169, 887, 'white')

    axes = [[px_axes(fig, cx[0], ry[0], cx[1], ry[1]) for cx in COL_EDGES] for ry in ROW_EDGES]
    for row in range(3):
        for col in range(3):
            style_panel(axes[row][col], row, col)

    draw_density(axes[0][0], assets_real, assets_gen)
    draw_density(axes[1][1], equity_real, equity_gen)
    draw_density(axes[2][2], liab_real, liab_gen)
    draw_contours(axes[0][1], ea_gen, ea_real, [ea_stack])
    draw_contours(axes[0][2], la_gen, la_real, [la_stack, la_stack_top])
    draw_contours(axes[1][2], le_gen, le_real, [le_stack, le_stack_top])
    draw_scatter(axes[1][0], ae_body_gen, ae_body_real, ae_pts_gen, ae_pts_real, ae_spur_real,
                 ae_floor_gen, ae_floor_real)
    draw_scatter(axes[2][0], al_body_gen, al_body_real, al_pts_gen, al_pts_real, al_spur_real,
                 al_floor_gen, al_floor_real)
    draw_scatter(axes[2][1], el_body_gen, el_body_real, el_pts_gen, el_pts_real, el_spur_real,
                 el_floor_gen, el_floor_real)
    draw_strips(fig)

    fig.text(199 / FIG_W, 1 - 95 / FIG_H, TITLE, fontsize=13.75, fontweight='bold', color='#2e2e2e', va='center')
    fig.text(199 / FIG_W, 1 - 118 / FIG_H, SUBTITLE, fontsize=9.7, color='#333333', va='center')
    fig.add_artist(Line2D([196 / FIG_W, 1003 / FIG_W], [1 - 831 / FIG_H, 1 - 831 / FIG_H],
                          color='#a8a8a8', linewidth=1.0))

    fig.savefig('out.png', dpi=100)


if __name__ == "__main__":
    main()
